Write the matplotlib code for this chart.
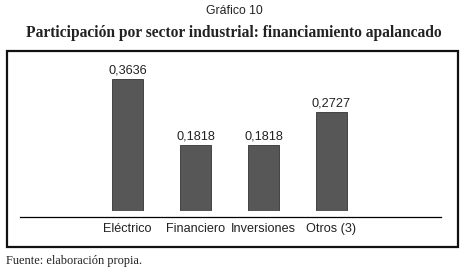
import matplotlib
matplotlib.use("Agg")
import matplotlib.pyplot as plt
from matplotlib.patches import Rectangle

# Data
sectors = ["Eléctrico", "Financiero", "Inversiones", "Otros (3)"]
shares = [0.3636, 0.1818, 0.1818, 0.2727]
value_labels = ["0,3636", "0,1818", "0,1818", "0,2727"]

W, H = 468, 271
fig = plt.figure(figsize=(W / 100, H / 100), dpi=100)
fig.patch.set_facecolor("white")

sans = "Liberation Sans"
serif = "Liberation Serif"

# Frame around the chart
fig.add_artist(Rectangle((7 / W, (H - 247) / H), 451 / W, 196 / H,
                         transform=fig.transFigure, fill=False,
                         edgecolor="#111111", linewidth=1.6))

# Axes placed in pixel terms: bars sit on y=211 px, 363 px per unit
ax = fig.add_axes([20 / W, (H - 211) / H, 421 / W, 141 / H])
x = list(range(len(sectors)))
ax.bar(x, shares, width=0.46, color="#575757", edgecolor="#333333", linewidth=0.6)
ax.set_xlim(-1.58, 4.61)
ax.set_ylim(0, 141 / 363)

for xi, v, lab in zip(x, shares, value_labels):
    ax.annotate(lab, (xi, v), xytext=(0, 1.5), textcoords="offset points",
                ha="center", va="bottom", fontsize=9.2, family=sans, color="#222222")

for s in ["top", "left", "right"]:
    ax.spines[s].set_visible(False)
ax.spines["bottom"].set_position(("outward", 4.3))
ax.spines["bottom"].set_linewidth(0.9)
ax.set_yticks([])
ax.set_xticks(x)
ax.set_xticklabels(sectors, fontsize=9.1, family=sans, color="#222222")
ax.tick_params(axis="x", length=0, pad=4.5)

fig.text(234 / W, 1 - 11 / H, "Gráfico 10", ha="center", va="center",
         fontsize=8.8, family=sans, color="#222222")
fig.text(234 / W, 1 - 33 / H,
         "Participación por sector industrial: financiamiento apalancado",
         ha="center", va="center", fontsize=11.2, family=serif,
         fontweight="bold", color="#222222")
fig.text(6 / W, 1 - 261 / H, "Fuente: elaboración propia.", ha="left",
         va="center", fontsize=8.9, family=serif, color="#222222")

fig.savefig("out.png", dpi=100)
